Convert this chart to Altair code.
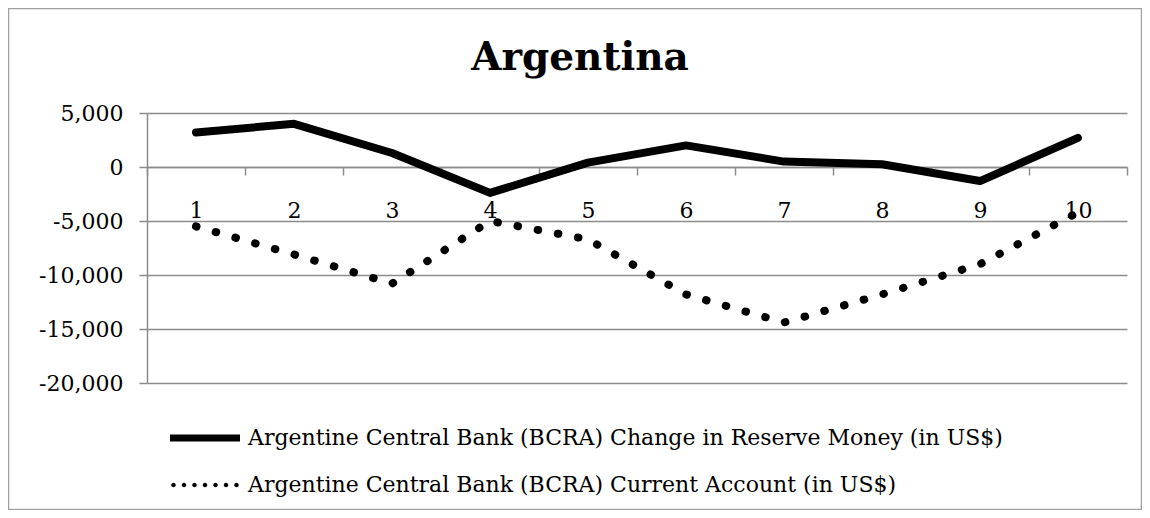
import altair as alt
import pandas as pd

# ---- data ----
periods = [1, 2, 3, 4, 5, 6, 7, 8, 9, 10]
reserve_money = [3200, 4000, 1300, -2400, 400, 2000, 500, 250, -1300, 2700]
current_account = [-5500, -8100, -10800, -5000, -6700, -11800, -14400, -11800, -9000, -4200]
series_names = [
    "Argentine Central Bank (BCRA) Change in Reserve Money (in US$)",
    "Argentine Central Bank (BCRA) Current Account (in US$)",
]
y_ticks = [-20000, -15000, -10000, -5000, 0, 5000]

df = pd.DataFrame({
    "period": periods * 2,
    "value": reserve_money + current_account,
    "series": [series_names[0]] * len(periods) + [series_names[1]] * len(periods),
})

FONT = "DejaVu Serif"
GRID = "#8c8c8c"
FS = 22

# legend symbols (unit coordinates, scaled by the legend symbol size)
solid_path = "M-1,-0.1L1,-0.1L1,0.1L-1,0.1Z"
r = 0.065
dots = []
for k in range(7):
    u = -0.9 + 0.3 * k
    dots.append(f"M{u - r:.3f},0A{r},{r} 0 1,0 {u + r:.3f},0A{r},{r} 0 1,0 {u - r:.3f},0Z")
dots_path = "".join(dots)

x_enc = alt.X(
    "period:O",
    scale=alt.Scale(type="band", paddingInner=0, paddingOuter=0),
    axis=alt.Axis(
        title=None, labelAngle=0, offset=-216, tickBand="extent",
        tickSize=8, tickColor=GRID, tickWidth=1.5,
        domainColor=GRID, domainWidth=1.5, labelPadding=25,
        labelFont=FONT, labelFontSize=FS, labelColor="black", grid=False,
    ),
)
y_enc = alt.Y(
    "value:Q",
    scale=alt.Scale(domain=[-20000, 5000], nice=False),
    axis=alt.Axis(
        values=y_ticks, title=None, grid=True,
        labelExpr="(datum.value < 0 ? '-' : '') + format(abs(datum.value), ',d')",
        gridColor=GRID, gridWidth=1.5, domainColor=GRID, domainWidth=1.5,
        tickColor=GRID, tickWidth=1.5, tickSize=8, labelPadding=16,
        labelFont=FONT, labelFontSize=FS, labelColor="black",
    ),
)

solid = alt.Chart(df).transform_filter(
    alt.datum.series == series_names[0]
).mark_line(color="black", strokeWidth=8, strokeCap="round", strokeJoin="round").encode(
    x=x_enc, y=y_enc
)

dotted = alt.Chart(df).transform_filter(
    alt.datum.series == series_names[1]
).mark_line(color="black", strokeWidth=8, strokeCap="round", strokeDash=[0.5, 20]).encode(
    x=x_enc, y=y_enc
)

legend_layer = alt.Chart(df).transform_filter("false").mark_point(
    filled=True, color="black", opacity=1
).encode(
    x=x_enc,
    y=y_enc,
    shape=alt.Shape(
        "series:N",
        scale=alt.Scale(domain=series_names, range=[solid_path, dots_path]),
        legend=alt.Legend(
            title=None, orient="none", legendX=23, legendY=313,
            symbolSize=4900, symbolStrokeWidth=0, symbolFillColor="black",
            labelFont=FONT, labelFontSize=FS, labelColor="black",
            labelOffset=8, labelLimit=2000, clipHeight=24, rowPadding=23,
            padding=0, symbolOffset=0, direction="vertical",
        ),
    ),
)

border = alt.Chart(alt.Data(values=[{"a": 1}])).mark_rect(
    filled=False, stroke="#a0a0a0", strokeWidth=1.5
).encode(
    x=alt.value(-138.5), x2=alt.value(994.5), y=alt.value(-104.5), y2=alt.value(396.5)
)

chart = alt.layer(border, solid, dotted, legend_layer).properties(
    width=980,
    height=270,
    title=alt.TitleParams(
        "Argentina", font=FONT, fontSize=39, fontWeight="bold", color="black",
        anchor="middle", dx=-57, offset=20, dy=90,
    ),
    padding={"left": 139, "top": 105, "right": 15, "bottom": 127},
    autosize=alt.AutoSizeParams(type="none"),
).configure_view(stroke=None)

chart.save("out.html", embed_options={"renderer": "svg", "actions": False})
